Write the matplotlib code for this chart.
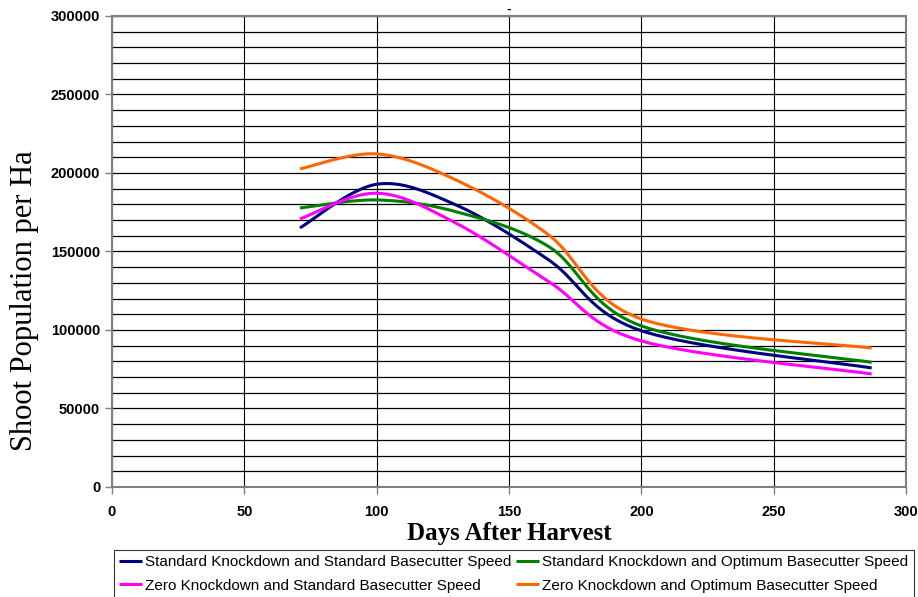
import matplotlib
matplotlib.use('Agg')
import matplotlib.pyplot as plt
import numpy as np

days = [71, 100, 130, 165, 200, 287]
std_kd_std_bc = [165000, 192800, 179600, 144600, 99500, 75800]
std_kd_opt_bc = [177700, 182800, 175300, 153100, 102600, 79400]
zero_kd_std_bc = [170700, 187100, 168000, 130800, 93000, 72000]
zero_kd_opt_bc = [202600, 212100, 195500, 160500, 107000, 88500]

labels = ['Standard Knockdown and Standard Basecutter Speed',
          'Standard Knockdown and Optimum Basecutter Speed',
          'Zero Knockdown and Standard Basecutter Speed',
          'Zero Knockdown and Optimum Basecutter Speed']
colors = ['#000080', '#008000', '#FF00FF', '#FF6600']


def smooth(x, y, n=40):
    # excel-like smoothed line (catmull-rom as bezier)
    x = np.asarray(x, float)
    y = np.asarray(y, float)
    px = np.concatenate([[x[0]], x, [x[-1]]])
    py = np.concatenate([[y[0]], y, [y[-1]]])
    xs, ys = [], []
    t = np.linspace(0, 1, n)
    for i in range(1, len(px) - 2):
        p0 = np.array([px[i], py[i]])
        p3 = np.array([px[i + 1], py[i + 1]])
        p1 = p0 + (np.array([px[i + 1], py[i + 1]]) - np.array([px[i - 1], py[i - 1]])) / 6
        p2 = p3 - (np.array([px[i + 2], py[i + 2]]) - np.array([px[i], py[i]])) / 6
        b = ((1 - t) ** 3)[:, None] * p0 + (3 * (1 - t) ** 2 * t)[:, None] * p1 \
            + (3 * (1 - t) * t ** 2)[:, None] * p2 + (t ** 3)[:, None] * p3
        xs.extend(b[:, 0])
        ys.extend(b[:, 1])
    return xs, ys


fig = plt.figure(figsize=(9.18, 5.97), dpi=100)
ax = fig.add_axes([0.122, 0.1843, 0.865, 0.789])

series = [std_kd_std_bc, std_kd_opt_bc, zero_kd_std_bc, zero_kd_opt_bc]
lines = []
for s, lab, c in zip(series, labels, colors):
    sx, sy = smooth(days, s)
    ln, = ax.plot(sx, sy, color=c, lw=2.2, label=lab, solid_capstyle='butt')
    lines.append(ln)

ax.set_xlim(0, 300)
ax.set_ylim(0, 300000)
ax.set_xticks(range(0, 301, 50))
ax.set_yticks(range(0, 300001, 50000))
ax.set_yticks(range(0, 300001, 10000), minor=True)
ax.grid(True, which='both', axis='y', color='black', lw=0.9)
ax.grid(True, which='major', axis='x', color='black', lw=0.8)
ax.set_axisbelow(True)
ax.tick_params(axis='y', which='minor', length=0)
ax.tick_params(axis='both', which='major', length=5, width=1, color='#808080')
ax.tick_params(axis='x', pad=8)
for sp in ax.spines.values():
    sp.set_color('#808080')
    sp.set_linewidth(1.5)
for lbl in ax.get_xticklabels() + ax.get_yticklabels():
    lbl.set_fontfamily('Liberation Sans')
    lbl.set_fontweight('bold')
    lbl.set_fontsize(10.5)

ax.set_title('-', fontsize=8, fontweight='bold', pad=2)
ax.set_xlabel('Days After Harvest', fontfamily='Liberation Serif', fontweight='bold',
              fontsize=18, labelpad=2)
ax.set_ylabel('Shoot Population per Ha', fontfamily='Liberation Serif', fontsize=22)
ax.yaxis.set_label_coords(-0.092, 0.395)

order = [0, 2, 1, 3]
leg = fig.legend([lines[i] for i in order], [labels[i] for i in order],
                 loc='upper left', bbox_to_anchor=(114 / 918, 1 - 550 / 597), ncol=2,
                 prop={'family': 'Liberation Sans', 'size': 11}, frameon=True,
                 fancybox=False, edgecolor='black', handlelength=1.5,
                 handletextpad=0.2, columnspacing=0.3, borderpad=0.35,
                 labelspacing=0.6, borderaxespad=0)
leg.get_frame().set_linewidth(0.8)

fig.savefig('out.png', dpi=100)
